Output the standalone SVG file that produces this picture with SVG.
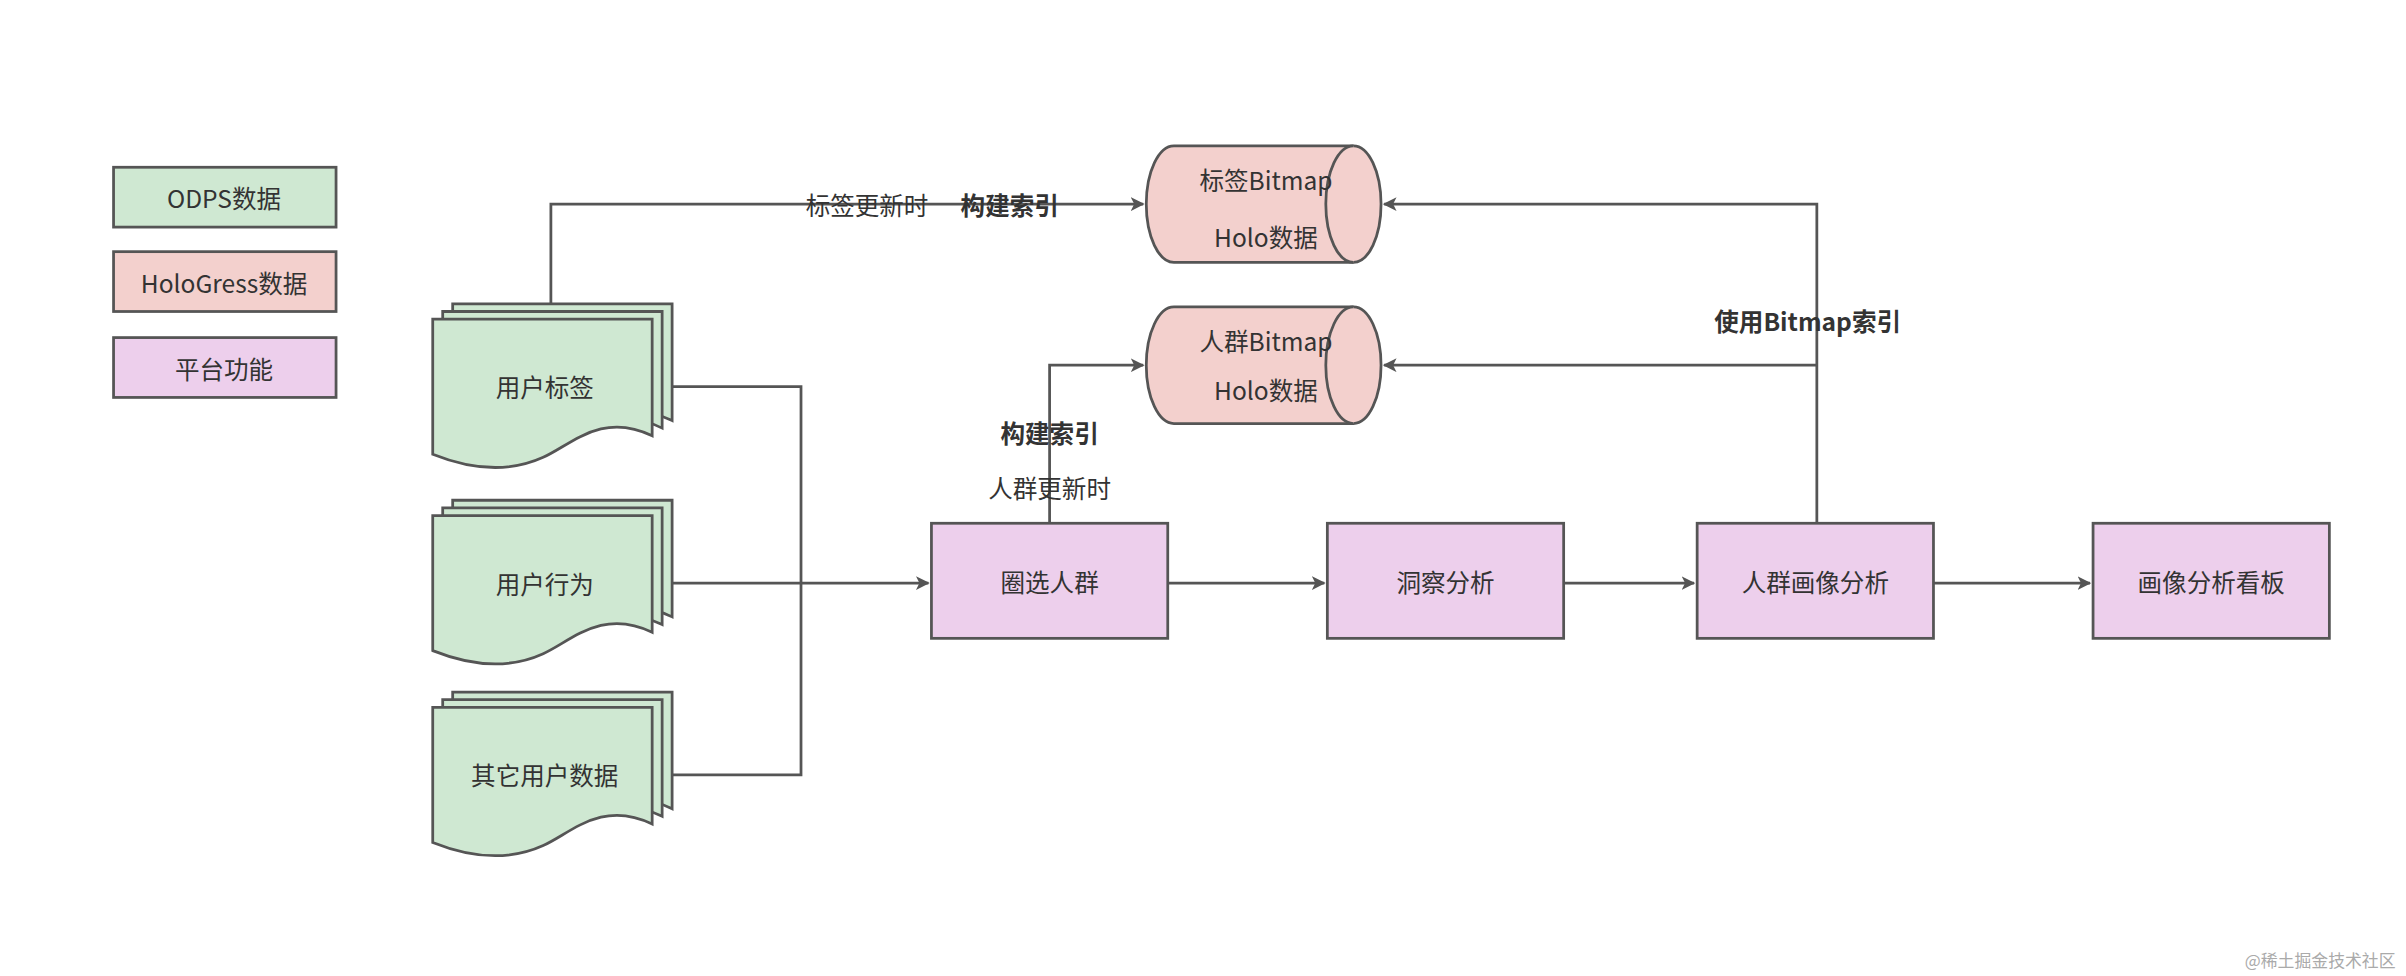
<svg xmlns="http://www.w3.org/2000/svg" width="2406" height="976" viewBox="0 0 2406 976">
<defs>
<style>
text{font-family:"Noto Sans CJK SC","Liberation Sans",sans-serif;font-size:16px;fill:#333;text-anchor:middle;dominant-baseline:central}
.b{font-weight:bold}
.g{fill:#cfe8d2;stroke:#555;stroke-width:1.8}
.p{fill:#f3d0cd;stroke:#555;stroke-width:1.8}
.m{fill:#edcfec;stroke:#555;stroke-width:1.8}
.c path{fill:none;stroke:#555;stroke-width:1.8}
</style>
<marker id="a" viewBox="0 0 10 10" refX="9" refY="5" markerWidth="9" markerHeight="9" orient="auto" markerUnits="userSpaceOnUse"><path d="M0,0 L10,5 L0,10 L2.5,5 Z" fill="#555"/></marker>
<path id="doc" d="M0,0 H143 V76 C110,60 90,82 72,90 C50,100 25,98 0,88 Z"/>
</defs>
<rect width="2406" height="976" fill="#fff"/>
<g transform="scale(1.5345)">
<g id="legend">
<rect class="g" x="74" y="109" width="145" height="39"/><text x="146" y="129">ODPS数据</text>
<rect class="p" x="74" y="164" width="145" height="39"/><text x="146" y="184">HoloGress数据</text>
<rect class="m" x="74" y="220" width="145" height="39"/><text x="146" y="240">平台功能</text>
</g>
<g class="c" id="connectors">
<path d="M359,198 V133 H745" marker-end="url(#a)"/>
<path d="M438,252 H522 V505 H438 M438,380 H605" marker-end="url(#a)"/>
<path d="M684,341 V238 H745" marker-end="url(#a)"/>
<path d="M1184,341 V133 H902" marker-end="url(#a)"/>
<path d="M1184,238 H902" marker-end="url(#a)"/>
<path d="M761,380 H863" marker-end="url(#a)"/>
<path d="M1019,380 H1104" marker-end="url(#a)"/>
<path d="M1260,380 H1362" marker-end="url(#a)"/>
<text x="565" y="133">标签更新时</text><text class="b" x="658" y="133">构建索引</text>
<text class="b" x="684" y="282">构建索引</text><text x="684" y="318">人群更新时</text>
<text class="b" x="1178" y="209">使用Bitmap索引</text>
</g>
<g id="doc1"><use href="#doc" class="g" x="295" y="198"/><use href="#doc" class="g" x="288.5" y="203"/><use href="#doc" class="g" x="282" y="208"/><text x="355" y="252">用户标签</text></g>
<g id="doc2"><use href="#doc" class="g" x="295" y="326"/><use href="#doc" class="g" x="288.5" y="331"/><use href="#doc" class="g" x="282" y="336"/><text x="355" y="380">用户行为</text></g>
<g id="doc3"><use href="#doc" class="g" x="295" y="451"/><use href="#doc" class="g" x="288.5" y="456"/><use href="#doc" class="g" x="282" y="461"/><text x="355" y="505">其它用户数据</text></g>
<g id="cyl1"><path class="p" d="M765,95 H882 A18,38 0 0 1 882,171 H765 A18,38 0 0 1 765,95 Z"/><path class="p" d="M882,95 A18,38 0 0 0 882,171" fill="none"/><text x="825" y="117">标签Bitmap</text><text x="825" y="154">Holo数据</text></g>
<g id="cyl2"><path class="p" d="M765,200 H882 A18,38 0 0 1 882,276 H765 A18,38 0 0 1 765,200 Z"/><path class="p" d="M882,200 A18,38 0 0 0 882,276" fill="none"/><text x="825" y="222">人群Bitmap</text><text x="825" y="254">Holo数据</text></g>
<g id="n1"><rect class="m" x="607" y="341" width="154" height="75"/><text x="684" y="379">圈选人群</text></g>
<g id="n2"><rect class="m" x="865" y="341" width="154" height="75"/><text x="942" y="379">洞察分析</text></g>
<g id="n3"><rect class="m" x="1106" y="341" width="154" height="75"/><text x="1183" y="379">人群画像分析</text></g>
<g id="n4"><rect class="m" x="1364" y="341" width="154" height="75"/><text x="1441" y="379">画像分析看板</text></g>
<text x="1512" y="625" style="font-size:11px;fill:#aaa">@稀土掘金技术社区</text>
</g>
</svg>
